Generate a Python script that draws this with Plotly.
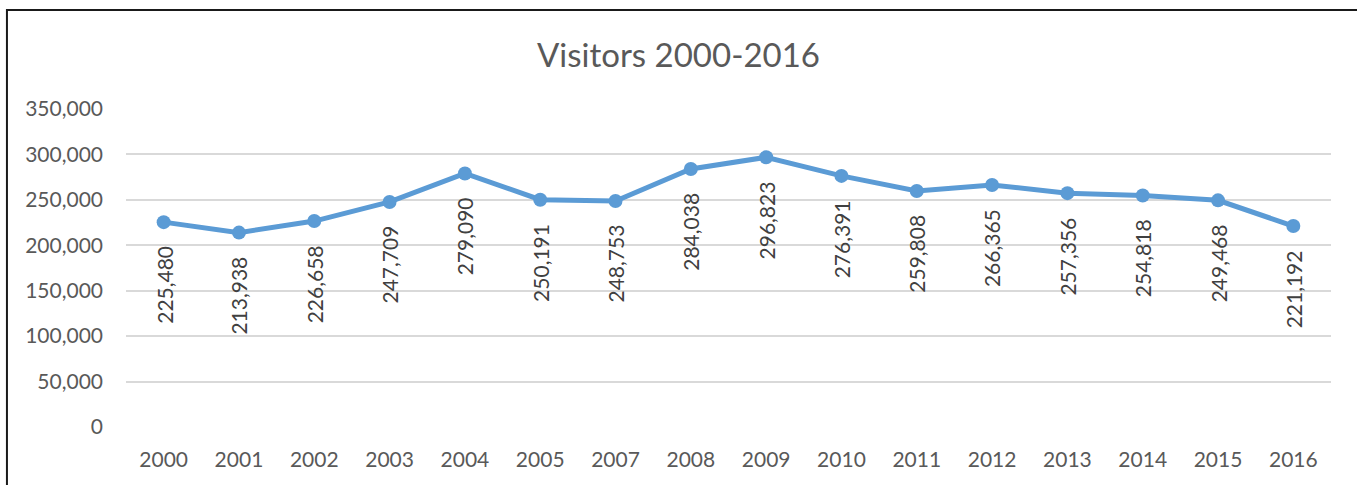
import plotly.graph_objects as go

# Annual visitor counts (no figure recorded for 2006)
years = ["2000", "2001", "2002", "2003", "2004", "2005", "2007", "2008",
         "2009", "2010", "2011", "2012", "2013", "2014", "2015", "2016"]
visitors = [225480, 213938, 226658, 247709, 279090, 250191, 248753, 284038,
            296823, 276391, 259808, 266365, 257356, 254818, 249468, 221192]
y_ticks = [0, 50000, 100000, 150000, 200000, 250000, 300000, 350000]

FONT = "Lato"
GREY = "#595959"
BLUE = "#5B9BD5"

fig = go.Figure()
fig.add_trace(go.Scatter(
    x=years, y=visitors, mode="lines+markers",
    line=dict(color=BLUE, width=5),
    marker=dict(color=BLUE, size=14),
    hoverinfo="x+y", showlegend=False,
))

# Value labels, rotated and hung below each point
# (x given as the category index so year strings are not read as numbers)
for i, v in enumerate(visitors):
    fig.add_annotation(
        x=i, y=v, text=f"{v:,}", showarrow=False, textangle=-90,
        xanchor="center", yanchor="top", yshift=-22,
        font=dict(family=FONT, size=21, color="#404040"),
    )

# Chart frame
fig.add_shape(type="rect", xref="paper", yref="paper",
              x0=-0.0988, x1=1.2, y0=-0.5, y1=1.311,
              line=dict(color="#1a1a1a", width=2), fillcolor="rgba(0,0,0,0)",
              layer="below")

fig.update_layout(
    width=1357, height=485,
    margin=dict(l=126, r=26, t=109, b=58),
    paper_bgcolor="white", plot_bgcolor="white",
    title=dict(text="Visitors 2000-2016", x=0.5, xanchor="center",
               y=1 - 55 / 485, yanchor="middle",
               font=dict(family=FONT, size=33, color=GREY)),
    font=dict(family=FONT, size=21, color=GREY),
    xaxis=dict(type="category", range=[-0.5, len(years) - 0.5],
               showgrid=False, showline=False, zeroline=False,
               ticks="", tickfont=dict(family=FONT, size=21, color=GREY),
               ticklabelstandoff=18),
    yaxis=dict(range=[0, 350000], tickvals=y_ticks,
               ticktext=[f"{t:,}" for t in y_ticks],
               showgrid=True, gridcolor="#D9D9D9", gridwidth=1.5,
               zeroline=False, showline=False, ticks="",
               tickfont=dict(family=FONT, size=21, color=GREY),
               ticklabelstandoff=22),
)

fig.write_html("out.html")
